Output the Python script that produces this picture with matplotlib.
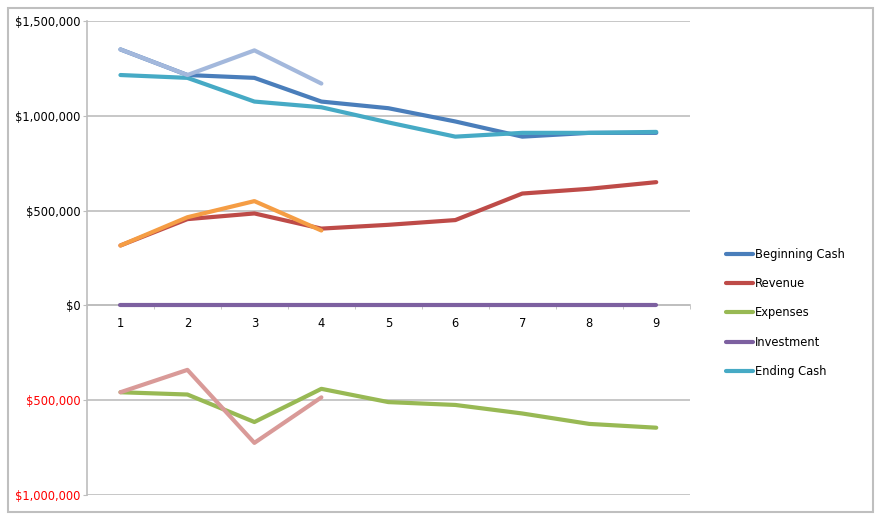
import matplotlib
matplotlib.use('Agg')
import matplotlib.pyplot as plt
from matplotlib.patches import Rectangle
from matplotlib.ticker import FuncFormatter, MultipleLocator

# Donnees
periods = [1, 2, 3, 4, 5, 6, 7, 8, 9]
beginning_cash = [1350000, 1215000, 1200000, 1075000, 1040000, 970000, 890000, 910000, 910000]
revenue = [316000, 455000, 485000, 405000, 425000, 450000, 590000, 615000, 650000]
expenses = [-458000, -470000, -615000, -440000, -510000, -525000, -570000, -625000, -645000]
investment = [0, 0, 0, 0, 0, 0, 0, 0, 0]
ending_cash = [1215000, 1200000, 1075000, 1045000, 965000, 890000, 910000, 910000, 915000]

# Series partielles (periodes 1 a 4), sans legende
partial_periods = [1, 2, 3, 4]
beginning_cash_2 = [1350000, 1215000, 1345000, 1170000]
revenue_2 = [316000, 465000, 550000, 395000]
expenses_2 = [-458000, -340000, -725000, -485000]

series = [
    ('Beginning Cash', beginning_cash, '#4A7EBB'),
    ('Revenue', revenue, '#BE4B48'),
    ('Expenses', expenses, '#98B954'),
    ('Investment', investment, '#7D60A0'),
    ('Ending Cash', ending_cash, '#46AAC5'),
]
extras = [
    (beginning_cash_2, '#A3B8DC'),
    (revenue_2, '#F59D44'),
    (expenses_2, '#D99A98'),
]

fig = plt.figure(figsize=(8.82, 5.22), dpi=100)
ax = fig.add_axes([0.0986, 0.0517, 0.6834, 0.9081])

for name, vals, color in series:
    ax.plot(periods, vals, color=color, linewidth=3, label=name, solid_capstyle='round', zorder=3)
for vals, color in extras:
    ax.plot(partial_periods, vals, color=color, linewidth=3, solid_capstyle='round', zorder=4)

ax.set_xlim(0.5, 9.5)
ax.set_ylim(-1000000, 1500000)
ax.yaxis.set_major_locator(MultipleLocator(500000))
ax.yaxis.set_major_formatter(FuncFormatter(lambda v, p: '${:,.0f}'.format(abs(v))))
ax.grid(axis='y', color='#BEBEBE', linewidth=1.2, zorder=1)

ax.set_xticks(periods)
ax.set_xticks([p + 0.5 for p in [0] + periods], minor=True)
ax.tick_params(axis='x', which='major', length=0, pad=8.5, labelsize=8.3)
ax.tick_params(axis='x', which='minor', length=3, color='#BEBEBE', direction='out')
ax.tick_params(axis='y', length=3, color='#BEBEBE', labelsize=8.3, pad=1.5)

for lbl, v in zip(ax.get_yticklabels(), ax.get_yticks()):
    if v < 0:
        lbl.set_color('#FF0000')

ax.spines['top'].set_visible(False)
ax.spines['right'].set_visible(False)
ax.spines['left'].set_color('#BEBEBE')
ax.spines['left'].set_linewidth(1.2)
ax.spines['bottom'].set_position(('data', 0))
ax.spines['bottom'].set_color('#BEBEBE')
ax.spines['bottom'].set_linewidth(1.2)

ax.legend(loc='center left', bbox_to_anchor=(1.043, 0.384), frameon=False, fontsize=8.3,
          handlelength=2.3, handletextpad=0.2, labelspacing=1.4, borderpad=0.4)

# Cadre exterieur
fig.patches.append(Rectangle((0.009, 0.019), 0.981, 0.966, transform=fig.transFigure,
                             fill=False, edgecolor='#BFBFBF', linewidth=1.5))

fig.savefig('out.png', dpi=100)
